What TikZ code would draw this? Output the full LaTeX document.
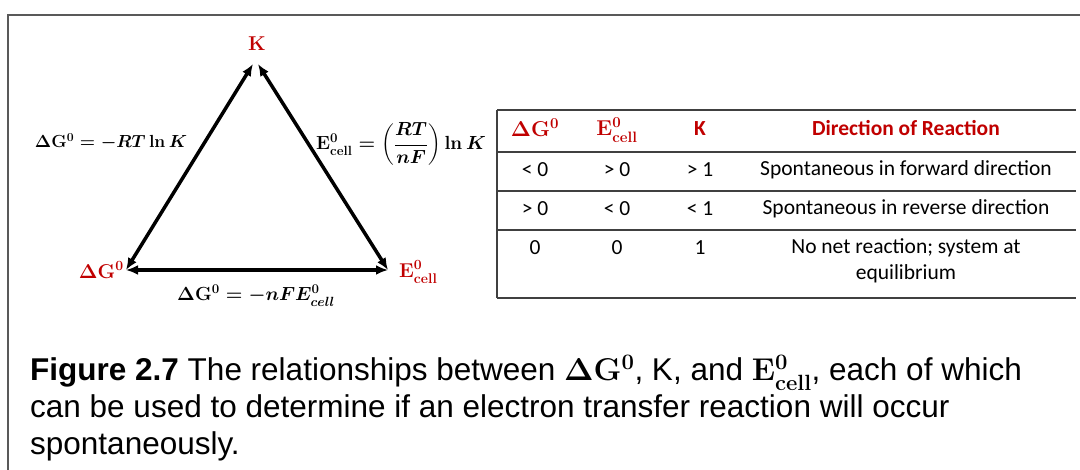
\documentclass[tikz,border=0pt]{standalone}
\usepackage{fix-cm}
\usepackage[no-math]{fontspec}
\usepackage{amsmath}
\setmainfont{Liberation Sans}
\newfontfamily\tabfont{Carlito}
\usetikzlibrary{arrows.meta}
\definecolor{dred}{HTML}{C00000}
\definecolor{framegray}{HTML}{595959}

\begin{document}
\begin{tikzpicture}[x=1pt, y=-1pt, >={Latex[length=12pt,width=10pt]},
    every node/.style={inner sep=0pt},
    vert/.style={text=dred, font=\fontsize{20}{24}\selectfont\boldmath},
    rel/.style={font=\fontsize{19}{22}\selectfont\boldmath},
    cell/.style={font=\tabfont\fontsize{21.5}{26}\selectfont},
    head/.style={text=dred, font=\tabfont\bfseries\fontsize{21.5}{26}\selectfont\boldmath},
    rule/.style={draw=black!75, line width=1.2pt},
    captext/.style={anchor=base west, font=\fontsize{31.5}{36}\selectfont}]
    \useasboundingbox (0,0) rectangle (1080,470);
    \draw[framegray, line width=1.5pt] (1080,15) -| (8,470);

    % triangle
    \node[vert] (K) at (257,44) {$\mathrm{K}$};
    \node[vert, anchor=east] (dG) at (124,270) {$\Delta\mathrm{G}^0$};
    \node[vert, anchor=west] (E) at (399,272) {$\mathrm{E}^0_{\mathrm{cell}}$};
    \coordinate (topl) at (253,64);
    \coordinate (topr) at (258,64);
    \coordinate (bl) at (126,270);
    \coordinate (br) at (388,270);
    \draw[<->, line width=3.5pt] (bl) -- (topl);
    \draw[<->, line width=3.5pt] (topr) -- (br);
    \draw[<->, line width=3.5pt] (bl) -- (br);
    \node[rel, font=\fontsize{17.5}{22}\selectfont\boldmath] (rk) at (111,142) {$\Delta\mathrm{G}^0 = -RT\ln K$};
    \node[rel] (re) at (401,144) {$\mathrm{E}^0_{\mathrm{cell}} = \left(\dfrac{RT}{nF}\right)\ln K$};
    \node[rel] (rb) at (256,296) {$\Delta\mathrm{G}^0 = -nFE^0_{cell}$};

    % table
    \foreach \y in {110,152,191,230,298}
        \draw[rule] (497,\y) -- (1076,\y);
    \draw[rule] (497,110) -- (497,298);
    \node[head] (h1) at (535,128) {$\Delta\mathrm{G}^0$};
    \node[head] (h2) at (617,130) {$\mathrm{E}^0_{\mathrm{cell}}$};
    \node[head] (h3) at (700,129) {K};
    \node[head] (h4) at (906,128) {Direction of Reaction};
    \node[cell] (a1) at (535,170) {< 0};
    \node[cell] (b1) at (617,170) {> 0};
    \node[cell] (c1) at (700,170) {> 1};
    \node[cell] (d1) at (906,170) {Spontaneous in forward direction};
    \node[cell] (a2) at (535,209) {> 0};
    \node[cell] (b2) at (617,209) {< 0};
    \node[cell] (c2) at (700,209) {< 1};
    \node[cell] (d2) at (906,209) {Spontaneous in reverse direction};
    \node[cell] (a3) at (535,248) {0};
    \node[cell] (b3) at (617,248) {0};
    \node[cell] (c3) at (700,248) {1};
    \node[cell, align=center, anchor=north] (d3) at (906,238) {No net reaction; system at\\ equilibrium};

    % caption
    \node[captext] (cap1) at (30,381) {\textbf{Figure 2.7} The relationships between {\boldmath$\Delta\mathrm{G}^0$}, K, and {\boldmath$\mathrm{E}^0_{\mathrm{cell}}$}, each of which};
    \node[captext] (cap2) at (30,418) {can be used to determine if an electron transfer reaction will occur};
    \node[captext] (cap3) at (30,454) {spontaneously.};
\end{tikzpicture}
\end{document}
